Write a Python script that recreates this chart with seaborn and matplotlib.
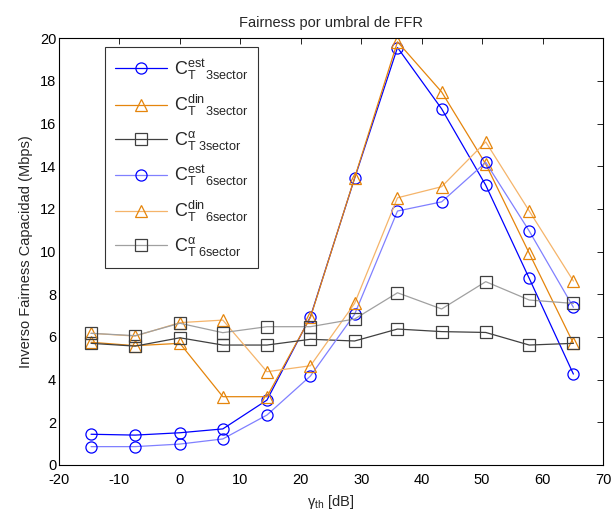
import seaborn as sns
import matplotlib.pyplot as plt
import pandas as pd

# umbral de FFR (dB)
gamma_th = [-14.7, -7.4, 0.0, 7.1, 14.4, 21.6, 28.9, 36.0, 43.3, 50.6, 57.8, 65.1]

# inverso fairness capacidad (Mbps)
est_3sector = [1.44, 1.40, 1.51, 1.69, 3.04, 6.95, 13.43, 19.56, 16.69, 13.11, 8.74, 4.26]
din_3sector = [5.75, 5.59, 5.70, 3.20, 3.20, 6.92, 13.45, 19.83, 17.48, 14.10, 9.92, 5.70]
alpha_3sector = [5.70, 5.57, 5.96, 5.62, 5.62, 5.89, 5.81, 6.37, 6.25, 6.21, 5.62, 5.70]
est_6sector = [0.86, 0.86, 0.98, 1.22, 2.34, 4.17, 7.06, 11.90, 12.33, 14.18, 10.96, 7.39]
din_6sector = [6.17, 6.04, 6.67, 6.79, 4.37, 4.65, 7.57, 12.52, 13.04, 15.14, 11.90, 8.62]
alpha_6sector = [6.17, 6.06, 6.64, 6.20, 6.48, 6.48, 6.84, 8.07, 7.31, 8.59, 7.73, 7.57]

sns.set_theme(style="white")
plt.rcParams['font.family'] = ['Liberation Sans', 'DejaVu Sans']
plt.rcParams['mathtext.fontset'] = 'custom'
plt.rcParams['mathtext.rm'] = 'Liberation Sans'
plt.rcParams['mathtext.it'] = 'Liberation Sans'
plt.rcParams['axes.unicode_minus'] = False

fig = plt.figure(figsize=(6.14, 5.13), dpi=100)
ax = fig.add_axes([0.0961, 0.0936, 0.886, 0.832])

series = [
    (est_3sector, r'$\mathrm{C}^{\mathrm{est}}_{\mathrm{T\quad 3sector}}$', '#0000ff', '#0000ff', 'o'),
    (din_3sector, r'$\mathrm{C}^{\mathrm{din}}_{\mathrm{T\quad 3sector}}$', '#e5850c', '#e5850c', '^'),
    (alpha_3sector, r'$\mathrm{C}^{\alpha}_{\mathrm{T\ 3sector}}$', '#404040', '#404040', 's'),
    (est_6sector, r'$\mathrm{C}^{\mathrm{est}}_{\mathrm{T\quad 6sector}}$', '#8080ff', '#0000ff', 'o'),
    (din_6sector, r'$\mathrm{C}^{\mathrm{din}}_{\mathrm{T\quad 6sector}}$', '#f5b46a', '#e5850c', '^'),
    (alpha_6sector, r'$\mathrm{C}^{\alpha}_{\mathrm{T\ 6sector}}$', '#a0a0a0', '#404040', 's'),
]

for values, label, line_color, marker_color, marker in series:
    df = pd.DataFrame({'gamma': gamma_th, 'fairness': values})
    sns.lineplot(data=df, x='gamma', y='fairness', ax=ax, color=line_color,
                 linewidth=0.9, marker=marker, markersize=8,
                 markerfacecolor='none', markeredgecolor=marker_color,
                 markeredgewidth=0.9, label=label)

ax.set_xlim(-20, 70)
ax.set_ylim(0, 20)
ax.set_xticks(range(-20, 71, 10))
ax.set_yticks(range(0, 21, 2))
ax.tick_params(direction='in', top=True, right=True, length=4, width=0.6,
               labelsize=10.5, colors='black', pad=2)
ax.tick_params(axis='x', pad=6)
for spine in ax.spines.values():
    spine.set_color('black')
    spine.set_linewidth(0.8)

ax.set_title('Fairness por umbral de FFR', fontsize=10.5, pad=8)
ax.set_xlabel(r'$\gamma_{\mathrm{th}}$ [dB]', fontsize=10.5, labelpad=4)
ax.set_ylabel('Inverso Fairness Capacidad (Mbps)', fontsize=10.5, labelpad=5)

leg = ax.legend(loc='upper left', bbox_to_anchor=(0.0846, 0.979), borderaxespad=0,
                fontsize=13, frameon=True, fancybox=False, handlelength=2.9,
                handletextpad=0.35, labelspacing=0.62, borderpad=0.55)
leg.get_frame().set_edgecolor('black')
leg.get_frame().set_linewidth(0.8)

plt.savefig('out.png', dpi=100)
plt.close()
